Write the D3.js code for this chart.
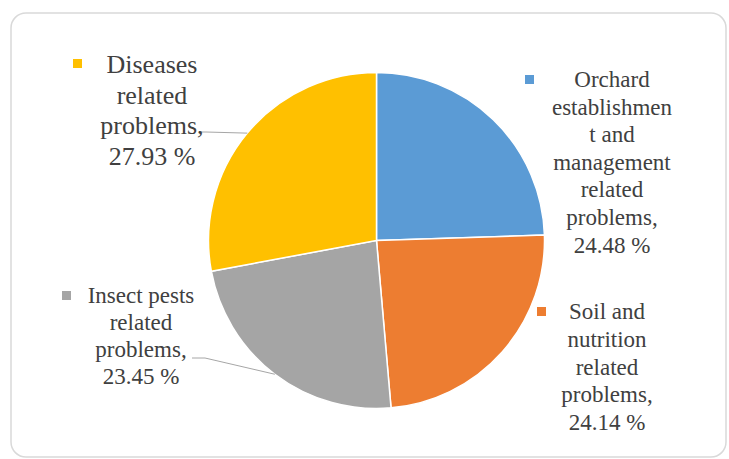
<!DOCTYPE html>
<html>
<head>
<meta charset="utf-8">
<script src="https://cdn.jsdelivr.net/npm/d3@7"></script>
<style>
  body { margin: 0; background: #fff; }
  svg { display: block; }
  .lbl { font-family: "Liberation Serif", "Times New Roman", Tinos, "DejaVu Serif", serif; }
</style>
</head>
<body>
<svg></svg>
<script>
// data
var categories = ["Orchard establishment and management related problems",
                  "Soil and nutrition related problems",
                  "Insect pests related problems",
                  "Diseases related problems"];
var values = [24.48, 24.14, 23.45, 27.93];
var colors = ["#5B9BD5", "#ED7D31", "#A5A5A5", "#FFC000"];
var labelLines = [
  ["Orchard", "establishmen", "t and", "management", "related", "problems,", "24.48 %"],
  ["Soil and", "nutrition", "related", "problems,", "24.14 %"],
  ["Insect pests", "related", "problems,", "23.45 %"],
  ["Diseases", "related", "problems,", "27.93 %"]
];

var width = 729, height = 459;
var cx = 376.5, cy = 240.5, radius = 168;

// label placement (layout only)
var labelPos = [
  { x: 612, y: 87,  size: 23, lh: 27.6, sq: [525, 75] },
  { x: 607, y: 319, size: 23, lh: 27.8, sq: [537, 307] },
  { x: 141, y: 303, size: 23, lh: 27,   sq: [62, 291], leader: [192, 358, 205] },
  { x: 152, y: 73,  size: 26, lh: 30.7, sq: [73, 59],  leader: [199, 132, 206] }
];

var svg = d3.select("svg")
  .attr("width", width)
  .attr("height", height);

// chart frame
svg.append("rect")
  .attr("x", 11).attr("y", 13)
  .attr("width", 715).attr("height", 444)
  .attr("rx", 15).attr("ry", 15)
  .attr("fill", "#fff")
  .attr("stroke", "#d9d9d9")
  .attr("stroke-width", 1.5);

var pie = d3.pie().sort(null).value(function(d) { return d; });
var arcs = pie(values);

var arc = d3.arc().innerRadius(0).outerRadius(radius);

var g = svg.append("g").attr("transform", "translate(" + cx + "," + cy + ")");

g.selectAll("path")
  .data(arcs)
  .enter()
  .append("path")
  .attr("d", arc)
  .attr("fill", function(d, i) { return colors[i]; })
  .attr("stroke", "#fff")
  .attr("stroke-width", 1.5);

// leader lines to the middle of the slice edge
arcs.forEach(function(d, i) {
  var p = labelPos[i];
  if (!p.leader) return;
  var a = (d.startAngle + d.endAngle) / 2;
  var ex = cx + radius * Math.sin(a);
  var ey = cy - radius * Math.cos(a);
  svg.append("polyline")
    .attr("points", [[p.leader[0], p.leader[1]], [p.leader[2], p.leader[1]], [ex, ey]].join(" "))
    .attr("fill", "none")
    .attr("stroke", "#a6a6a6")
    .attr("stroke-width", 1);
});

// labels with colour squares
labelLines.forEach(function(lines, i) {
  var p = labelPos[i];
  svg.append("rect")
    .attr("x", p.sq[0]).attr("y", p.sq[1])
    .attr("width", 9).attr("height", 9)
    .attr("fill", colors[i]);

  var t = svg.append("text")
    .attr("class", "lbl")
    .attr("text-anchor", "middle")
    .style("font-size", p.size + "px")
    .attr("fill", "#404040");

  t.selectAll("tspan")
    .data(lines)
    .enter()
    .append("tspan")
    .attr("x", p.x)
    .attr("y", function(l, j) { return p.y + j * p.lh; })
    .text(function(l) { return l; });
});
</script>
</body>
</html>
